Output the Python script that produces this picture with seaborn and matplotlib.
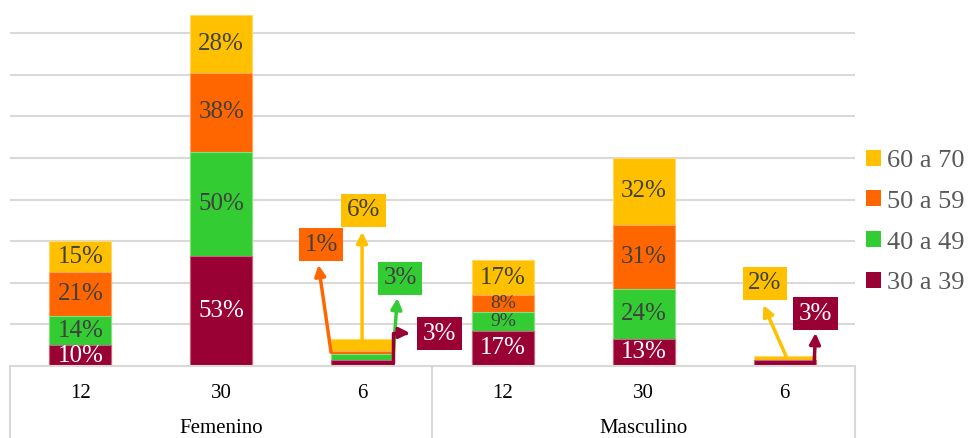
import pandas as pd
import matplotlib
matplotlib.use("Agg")
import matplotlib.pyplot as plt
from matplotlib.patches import Patch
import matplotlib.colors as mcolors
import seaborn as sns

# =====================================================
# 1. DATA (percent of each age band per bar)
# =====================================================

bars = ["F12", "F30", "F6", "M12", "M30", "M6"]
bar_labels = ["12", "30", "6", "12", "30", "6"]
groups = ["Femenino", "Masculino"]

series = ["30 a 39", "40 a 49", "50 a 59", "60 a 70"]
edad_30_39 = [10, 53, 3, 17, 13, 3]
edad_40_49 = [14, 50, 3, 9, 24, 0]
edad_50_59 = [21, 38, 1, 8, 31, 0]
edad_60_70 = [15, 28, 6, 17, 32, 2]

colors = ["#990033", "#33CC33", "#FF6600", "#FFC000"]
text_colors = ["white", "#404040", "#404040", "#404040"]

values = [edad_30_39, edad_40_49, edad_50_59, edad_60_70]

rows = []
for s, vals in zip(series, values):
    for b, v in zip(bars, vals):
        rows.append({"bar": b, "serie": s, "valor": v})
df = pd.DataFrame(rows)
df["top"] = df.groupby("bar")["valor"].cumsum()
df["bottom"] = df["top"] - df["valor"]

# callouts for thin bars: (bar, serie, text pos, arrow start, arrow tip, connection)
callouts = [
    ("F6", "60 a 70", (2.01, 74.8), (2.0, 13.0), (2.0, 64.5), "arc3"),
    ("F6", "50 a 59", (1.71, 58.4), (1.78, 6.5), (1.69, 48.6), "arc3"),
    ("F6", "40 a 49", (2.27, 42.3), (2.22, 4.5), (2.25, 32.7), "arc3"),
    ("F6", "30 a 39", (2.55, 15.6), (2.22, 1.5), (2.34, 15.9), "angle,angleA=90,angleB=0,rad=0"),
    ("M6", "60 a 70", (4.86, 39.9), (5.01, 4.8), (4.85, 29.3), "arc3"),
    ("M6", "30 a 39", (5.22, 25.2), (5.21, 1.5), (5.22, 15.9), "arc3"),
]

# =====================================================
# 2. PLOT
# =====================================================

sns.set_style("white")
plt.rcParams["font.family"] = ["Liberation Serif", "DejaVu Serif"]

fig = plt.figure(figsize=(9.7, 4.38), dpi=100)
ax = fig.add_axes([10 / 970, 72 / 438, 845 / 970, 366 / 438])

# stacked bars: draw cumulative totals from the top series down
for s, c in reversed(list(zip(series, colors))):
    sub = df[df["serie"] == s]
    edge = mcolors.to_hex([0.6 * x + 0.4 for x in mcolors.to_rgb(c)])
    sns.barplot(data=sub, x="bar", y="top", order=bars, color=c, saturation=1,
                width=0.44, errorbar=None, edgecolor=edge, linewidth=0.8,
                ax=ax, zorder=2)

ax.set_ylim(0, 176)
ax.set_xlim(-0.5, 5.5)
ax.set_yticks(range(20, 161, 20))
ax.yaxis.grid(True, color="#d9d9d9", linewidth=1.5, zorder=0)
ax.set_axisbelow(True)
ax.tick_params(axis="y", left=False, labelleft=False)
ax.set_xlabel("")
ax.set_ylabel("")
for sp in ["top", "left", "right"]:
    ax.spines[sp].set_visible(False)
ax.spines["bottom"].set_color("#d9d9d9")
ax.spines["bottom"].set_linewidth(1.5)

ax.set_xticks(range(len(bars)))
ax.set_xticklabels(bar_labels, fontsize=15, color="black")
ax.tick_params(axis="x", length=0, pad=13)

# group labels and separators of the category table
xt = ax.get_xaxis_transform()
for i, g in enumerate(groups):
    ax.text(1 + 3 * i, -0.172, g, transform=xt, ha="center", va="center",
            fontsize=15, color="black")
for xv in [-0.5, 2.5, 5.5]:
    ax.plot([xv, xv], [0, -0.2], transform=xt, color="#d9d9d9",
            linewidth=1.5, clip_on=False)

# inside labels (thin segments get a smaller font, like the original)
call_keys = {(b, s) for b, s, *_ in callouts}
for _, r in df.iterrows():
    if r["valor"] == 0 or (r["bar"], r["serie"]) in call_keys:
        continue
    si = series.index(r["serie"])
    fs = 14 if r["valor"] < 10 else 18
    ax.text(bars.index(r["bar"]), (r["top"] + r["bottom"]) / 2, f"{r['valor']}%",
            ha="center", va="center", fontsize=fs, color=text_colors[si], zorder=5)

# callout labels with arrows
for b, s, tpos, start, tip, conn in callouts:
    si = series.index(s)
    v = df[(df["bar"] == b) & (df["serie"] == s)]["valor"].iloc[0]
    ax.text(tpos[0], tpos[1], f"{v}%", ha="center", va="center", fontsize=18,
            color=text_colors[si], zorder=6,
            bbox=dict(boxstyle="square,pad=0.22", facecolor=colors[si], edgecolor="none"))
    ax.annotate("", xy=tip, xytext=start,
                arrowprops=dict(arrowstyle="-|>", color=colors[si], lw=2.5,
                                mutation_scale=16, shrinkA=0, shrinkB=0,
                                connectionstyle=conn), zorder=4)

# legend
handles = [Patch(facecolor=c, edgecolor="none") for c in reversed(colors)]
fig.legend(handles, list(reversed(series)), loc="center left",
           bbox_to_anchor=(866 / 970, 1 - 222 / 438), frameon=False,
           fontsize=19, labelcolor="#595959", borderpad=0, borderaxespad=0,
           handlelength=0.55, handleheight=0.55, handletextpad=0.25,
           labelspacing=0.7)

fig.savefig("out.png", dpi=100)
